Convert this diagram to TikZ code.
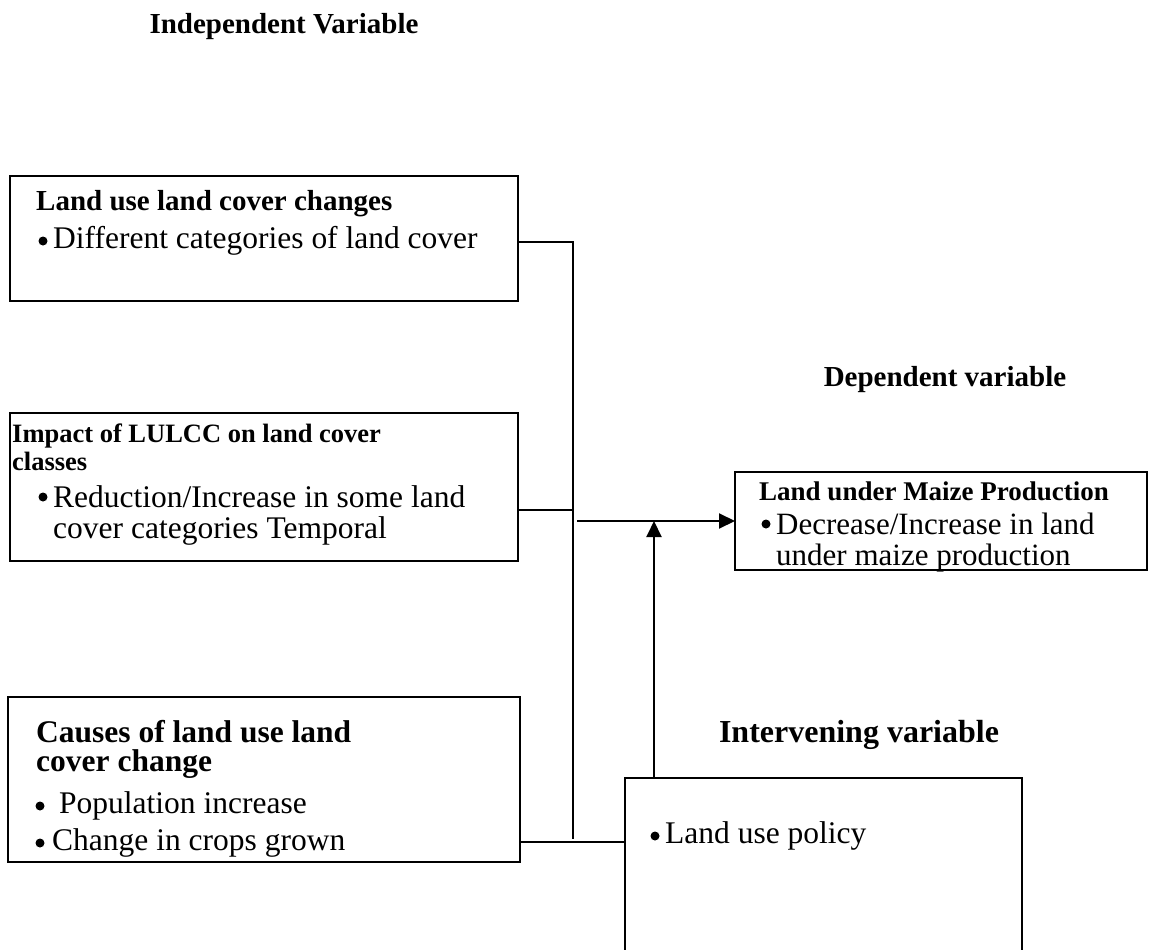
\documentclass[tikz,border=0pt]{standalone}
\usepackage{fontspec}
\setmainfont{Liberation Serif}
\usetikzlibrary{arrows.meta}
\begin{document}
\begin{tikzpicture}[x=1pt,y=-1pt,
  box/.style={draw,line width=2.4pt},
  conn/.style={line width=1.8pt},
  arr/.style={line width=2pt,-{Triangle[length=16pt,width=15pt]}},
  hd/.style={font=\fontsize{29}{34}\selectfont\bfseries,inner sep=0pt},
  ttl/.style={font=\fontsize{29}{34}\selectfont\bfseries,anchor=west,inner sep=0pt},
  sttl/.style={font=\fontsize{26.5}{32}\selectfont\bfseries,anchor=west,inner sep=0pt},
  txt/.style={font=\fontsize{31.5}{36}\selectfont,anchor=west,inner sep=0pt},
  bul/.style={circle,fill=black,inner sep=0pt,minimum size=9pt}
]
\useasboundingbox (0,0) rectangle (1173,950);
\clip (0,0) rectangle (1173,950);

% headings
\node[hd] (hind) at (284,27) {Independent Variable};
\node[hd] (hdep) at (945,380) {Dependent variable};
\node[hd,font=\fontsize{32}{38}\selectfont\bfseries] (hint) at (859,735) {Intervening variable};

% box 1
\draw[box] (10,176) rectangle (518,301);
\coordinate (b1r) at (518,242);
\node[ttl] (t1) at (36,204) {Land use land cover changes};
\node[bul] (d1) at (43,241) {};
\node[txt] (l1) at (53,241) {Different categories of land cover};

% box 2
\draw[box] (10,413) rectangle (518,561);
\coordinate (b2r) at (518,510);
\node[sttl] (t2a) at (12,436) {Impact of LULCC on land cover};
\node[sttl] (t2b) at (12,461) {classes};
\node[bul] (d2) at (43,497) {};
\node[txt] (l2a) at (53,497) {Reduction/Increase in some land};
\node[txt] (l2b) at (53,531) {cover categories Temporal};

% box 3
\draw[box] (735,472) rectangle (1147,570);
\coordinate (b3l) at (735,521);
\node[ttl,font=\fontsize{27}{32}\selectfont\bfseries] (t3) at (759,491) {Land under Maize Production};
\node[bul] (d3) at (766,524) {};
\node[txt,font=\fontsize{31}{36}\selectfont] (l3a) at (776,524) {Decrease/Increase in land};
\node[txt,font=\fontsize{31}{36}\selectfont] (l3b) at (776,558) {under maize production};

% box 4
\draw[box] (8,697) rectangle (520,862);
\coordinate (b4r) at (520,842);
\node[ttl,font=\fontsize{31.5}{36}\selectfont\bfseries] (t4a) at (36,732) {Causes of land use land};
\node[ttl,font=\fontsize{31.5}{36}\selectfont\bfseries] (t4b) at (36,764) {cover change};
\node[bul] (d4a) at (40,806) {};
\node[txt] (l4a) at (59,806) {Population increase};
\node[bul] (d4b) at (40,843) {};
\node[txt] (l4b) at (52,843) {Change in crops grown};

% box 5
\draw[box] (625,1000) -- (625,778) -- (1022,778) -- (1022,1000);
\coordinate (b5l) at (625,842);
\coordinate (b5t) at (654,778);
\node[bul] (d5) at (655,836) {};
\node[txt] (l5) at (665,836) {Land use policy};

% connectors
\coordinate (j1) at (573,242);
\coordinate (j2) at (573,839);
\coordinate (j3) at (573,510);
\draw[conn] (b1r) -- (j1) -- (j2);
\draw[conn] (b2r) -- (j3);
\draw[conn] (b4r) -- (b5l);
\coordinate (as) at (577,521);
\draw[arr] (as) -- (b3l);
\coordinate (at) at (654,521);
\draw[arr] (b5t) -- (at);
\end{tikzpicture}
\end{document}
